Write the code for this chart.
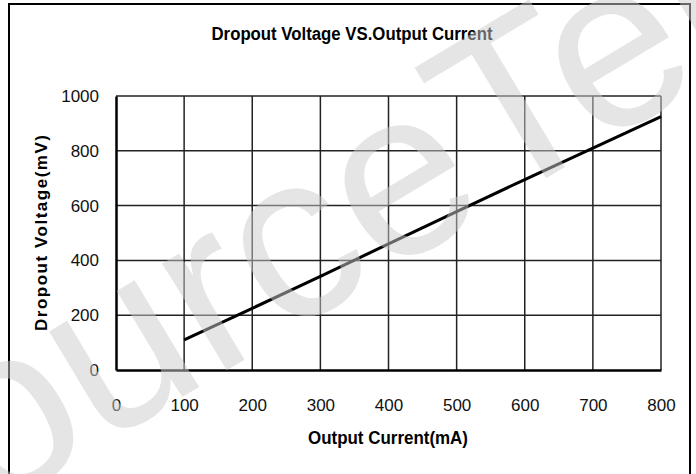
<!DOCTYPE html>
<html>
<head>
<meta charset="utf-8">
<script src="https://cdn.jsdelivr.net/npm/d3@7"></script>
<style>
  body { margin: 0; background: #fff; }
  svg { display: block; }
</style>
</head>
<body>
<div id="wrapper"></div>
<script>
// data
let currentMA = [100, 200, 300, 400, 500, 600, 700, 800];
let dropoutMV = [110, 225, 342, 460, 578, 695, 810, 925];
let xTicks = [0, 100, 200, 300, 400, 500, 600, 700, 800];
let yTicks = [0, 200, 400, 600, 800, 1000];

let dimensions = {
  width: 696,
  height: 474,
  margin: { top: 96, right: 35, bottom: 104, left: 116 }
};
dimensions.boundedWidth =
  dimensions.width - dimensions.margin.left - dimensions.margin.right;
dimensions.boundedHeight =
  dimensions.height - dimensions.margin.top - dimensions.margin.bottom;

let font = "'Liberation Sans', Arial, sans-serif";

let wrapper = d3
  .select("#wrapper")
  .append("svg")
  .attr("width", dimensions.width)
  .attr("height", dimensions.height);

// outer frame
wrapper
  .append("rect")
  .attr("x", 9)
  .attr("y", 4)
  .attr("width", 681)
  .attr("height", 490)
  .attr("fill", "none")
  .attr("stroke", "#000")
  .attr("stroke-width", 2);

// title, condensed like the original
wrapper
  .append("text")
  .attr("x", 352)
  .attr("y", 40)
  .attr("text-anchor", "middle")
  .attr("textLength", 281)
  .attr("lengthAdjust", "spacingAndGlyphs")
  .style("font-family", font)
  .style("font-weight", "bold")
  .style("font-size", "18px")
  .text("Dropout Voltage VS.Output Current");

let bounds = wrapper
  .append("g")
  .attr(
    "transform",
    `translate(${dimensions.margin.left}, ${dimensions.margin.top})`
  );

let xScale = d3
  .scaleLinear()
  .domain([0, 800])
  .range([0, dimensions.boundedWidth]);

let yScale = d3
  .scaleLinear()
  .domain([0, 1000])
  .range([dimensions.boundedHeight, 0]);

// grid
bounds
  .append("g")
  .selectAll("line")
  .data(xTicks.slice(1))
  .join("line")
  .attr("x1", d => xScale(d))
  .attr("x2", d => xScale(d))
  .attr("y1", 0)
  .attr("y2", dimensions.boundedHeight)
  .attr("stroke", "#222")
  .attr("stroke-width", 1.5);

bounds
  .append("g")
  .selectAll("line")
  .data(yTicks.slice(1))
  .join("line")
  .attr("x1", 0)
  .attr("x2", dimensions.boundedWidth)
  .attr("y1", d => yScale(d))
  .attr("y2", d => yScale(d))
  .attr("stroke", "#222")
  .attr("stroke-width", 1.5);

let xAxisGenerator = d3
  .axisBottom(xScale)
  .tickValues(xTicks)
  .tickFormat(d3.format("d"))
  .tickSize(0)
  .tickPadding(29);

let xAxis = bounds
  .append("g")
  .attr("transform", `translate(0, ${dimensions.boundedHeight})`)
  .call(xAxisGenerator);

let yAxisGenerator = d3
  .axisLeft(yScale)
  .tickValues(yTicks)
  .tickFormat(d3.format("d"))
  .tickSize(0)
  .tickPadding(17);

let yAxis = bounds.append("g").call(yAxisGenerator);

[xAxis, yAxis].forEach(axis => {
  axis.select(".domain").attr("stroke", "#000").attr("stroke-width", 2.5);
  axis
    .selectAll(".tick text")
    .attr("fill", "#111")
    .style("font-family", font)
    .style("font-size", "17px");
});

xAxis
  .append("text")
  .attr("x", 272)
  .attr("y", 74)
  .attr("fill", "#000")
  .attr("text-anchor", "middle")
  .attr("textLength", 160)
  .attr("lengthAdjust", "spacingAndGlyphs")
  .style("font-family", font)
  .style("font-weight", "bold")
  .style("font-size", "18px")
  .text("Output Current(mA)");

yAxis
  .append("text")
  .attr("transform", `translate(-69, ${dimensions.boundedHeight / 2}) rotate(-90)`)
  .attr("fill", "#000")
  .attr("text-anchor", "middle")
  .attr("textLength", 196)
  .attr("lengthAdjust", "spacing")
  .style("font-family", font)
  .style("font-weight", "bold")
  .style("font-size", "17px")
  .text("Dropout Voltage(mV)");

let lineGenerator = d3
  .line()
  .x((d, i) => xScale(currentMA[i]))
  .y(d => yScale(d));

bounds
  .append("path")
  .attr("d", lineGenerator(dropoutMV))
  .attr("fill", "none")
  .attr("stroke", "#000")
  .attr("stroke-width", 3);

// faint watermark laid over the chart
wrapper
  .append("text")
  .attr("transform", "translate(-372, 730) rotate(-31)")
  .attr("fill", "#ccc")
  .attr("opacity", 0.5)
  .style("font-family", font)
  .style("font-size", "236px")
  .text("ResourceTer");
</script>
</body>
</html>
